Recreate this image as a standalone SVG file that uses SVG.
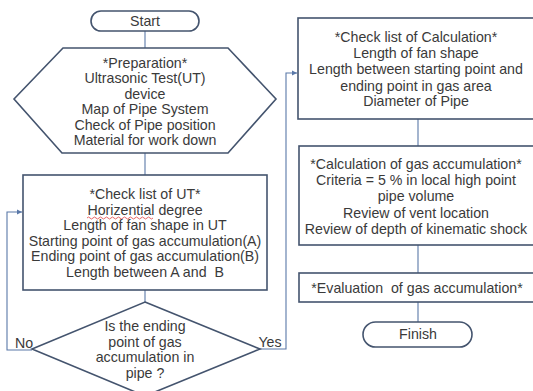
<svg xmlns="http://www.w3.org/2000/svg" width="533" height="391" viewBox="0 0 533 391">
<defs>
<style>
.node{fill:#ffffff;stroke:#44546e;stroke-width:1.6}
.conn{fill:none;stroke:#5a78a8;stroke-width:1.1}
text{font-family:"Liberation Sans",Arial,sans-serif;font-size:14.2px;fill:#3a3a3a;text-anchor:middle}
</style>
<marker id="arr" markerWidth="6" markerHeight="6" refX="5" refY="3" orient="auto" markerUnits="userSpaceOnUse">
<path d="M0,0.5 L5,3 L0,5.5 z" fill="#5a78a8"/>
</marker>
</defs>
<rect width="533" height="391" fill="#ffffff"/>
<g id="connectors">
<line class="conn" x1="145" y1="31" x2="145" y2="48"/>
<line class="conn" x1="145" y1="153" x2="145" y2="175"/>
<line class="conn" x1="145" y1="290" x2="145" y2="302"/>
<polyline class="conn" points="32,350 7,350 7,212 22,212" marker-end="url(#arr)"/>
<polyline class="conn" points="260,349 286,349 286,73 297,73" marker-end="url(#arr)"/>
<line class="conn" x1="418" y1="119" x2="418" y2="146"/>
<line class="conn" x1="418" y1="245" x2="418" y2="273"/>
<line class="conn" x1="418" y1="302" x2="418" y2="322"/>
<text x="24" y="348">No</text>
<text x="270" y="347">Yes</text>
</g>
<g id="start">
<rect class="node" x="91" y="11" width="108" height="20" rx="10" ry="10"/>
<text x="145" y="26">Start</text>
</g>
<g id="preparation">
<polygon class="node" points="63,48 228,48 276,99 228,153 62,153 14,99"/>
<text x="145" y="68">*Preparation*</text>
<text x="145" y="83.4">Ultrasonic Test(UT)</text>
<text x="145" y="98.8">device</text>
<text x="145" y="114.2">Map of Pipe System</text>
<text x="145" y="129.6">Check of Pipe position</text>
<text x="145" y="145">Material for work down</text>
</g>
<g id="checklist-ut">
<rect class="node" x="23" y="175" width="244" height="115"/>
<text x="145" y="199">*Check list of UT*</text>
<text x="145" y="214.6">Horizential degree</text>
<path d="M87,218 q1.5,-2 3,0 t3,0 t3,0 t3,0 t3,0 t3,0 t3,0 t3,0 t3,0 t3,0 t3,0 t3,0 t3,0 t3,0 t3,0 t3,0 t3,0 t3,0 t3,0 t3,0 t3,0 t3,0" fill="none" stroke="#e04040" stroke-width="0.8"/>
<text x="145" y="230.2">Length of fan shape in UT</text>
<text x="145" y="245.8">Starting point of gas accumulation(A)</text>
<text x="145" y="261.4">Ending point of gas accumulation(B)</text>
<text x="145" y="277">Length between A and&#160; B</text>
</g>
<g id="decision">
<polygon class="node" points="145,302 260,349 145,396 32,349"/>
<text x="145" y="331">Is the ending</text>
<text x="145" y="346.5">point of gas</text>
<text x="145" y="362">accumulation in</text>
<text x="145" y="377.5">pipe ?</text>
</g>
<g id="checklist-calc">
<rect class="node" x="298" y="18" width="245" height="101"/>
<text x="416" y="42">*Check list of Calculation*</text>
<text x="416" y="58.2">Length of fan shape</text>
<text x="416" y="74.4">Length between starting point and</text>
<text x="416" y="90.6">ending point in gas area</text>
<text x="416" y="106">Diameter of Pipe</text>
</g>
<g id="calculation">
<rect class="node" x="299" y="146" width="245" height="99"/>
<text x="416" y="169">*Calculation of gas accumulation*</text>
<text x="416" y="185.2">Criteria = 5 % in local high point</text>
<text x="416" y="201.4">pipe volume</text>
<text x="416" y="217.6">Review of vent location</text>
<text x="416" y="234">Review of depth of kinematic shock</text>
</g>
<g id="evaluation">
<rect class="node" x="299" y="273" width="245" height="29"/>
<text x="417" y="293">*Evaluation&#160; of gas accumulation*</text>
</g>
<g id="finish">
<rect class="node" x="363" y="322" width="109" height="25" rx="12.5" ry="12.5"/>
<text x="418" y="339">Finish</text>
</g>
</svg>
